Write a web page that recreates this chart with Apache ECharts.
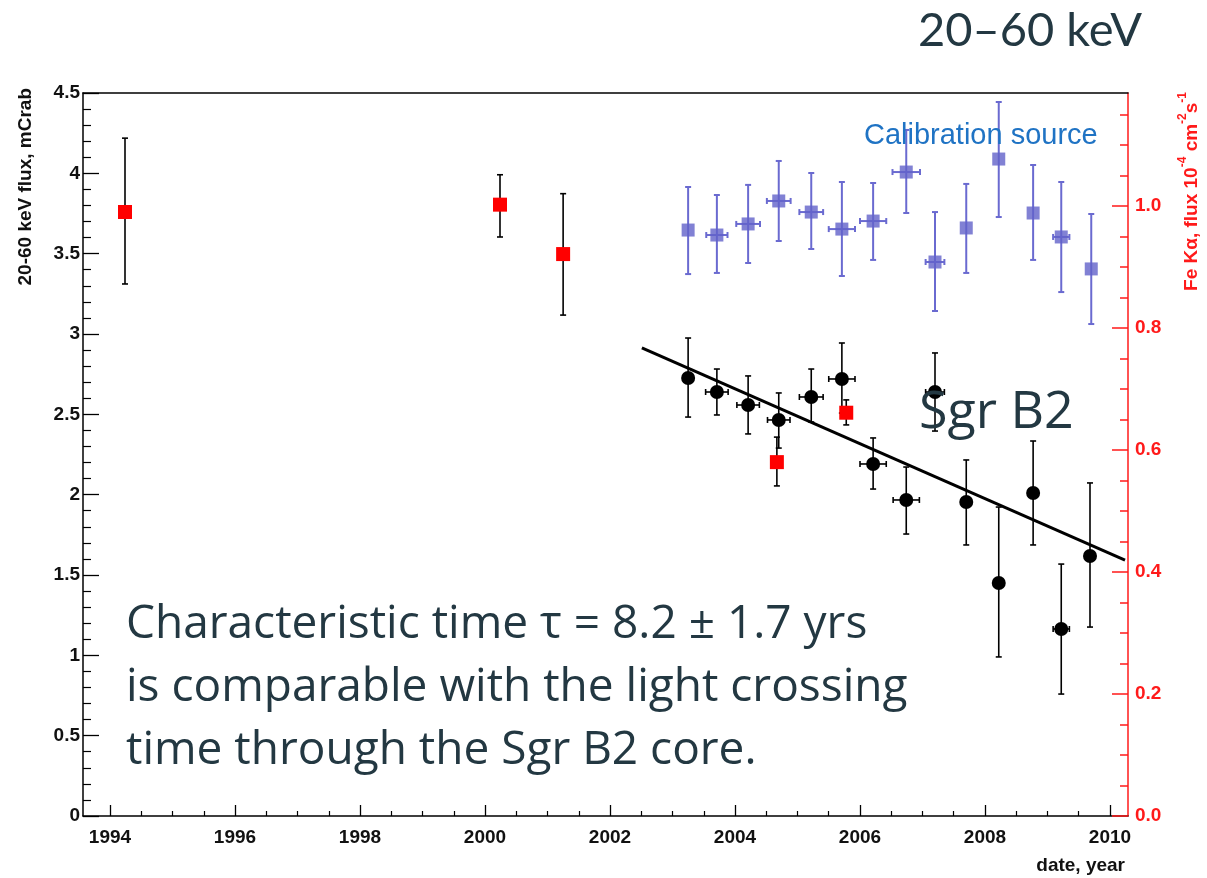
<!DOCTYPE html>
<html>
<head>
<meta charset="utf-8">
<script src="https://cdn.jsdelivr.net/npm/echarts@6/dist/echarts.min.js"></script>
<style>
html,body{margin:0;padding:0;background:#fff;}
#chart{width:1207px;height:878px;}
</style>
</head>
<body>
<div id="chart"></div>
<script>
// ---- data ----
// Calibration source (left axis, mCrab)
const blueYears = [2003.25, 2003.71, 2004.21, 2004.70, 2005.22, 2005.71, 2006.21, 2006.74, 2007.20, 2007.70, 2008.22, 2008.77, 2009.22, 2009.70];
const blueFlux  = [3.647, 3.616, 3.685, 3.828, 3.759, 3.653, 3.703, 4.008, 3.448, 3.660, 4.089, 3.753, 3.604, 3.405];
const blueLo    = [3.373, 3.380, 3.442, 3.579, 3.529, 3.361, 3.461, 3.753, 3.143, 3.380, 3.728, 3.461, 3.261, 3.062];
const blueHi    = [3.915, 3.865, 3.928, 4.077, 4.002, 3.946, 3.940, 4.270, 3.759, 3.934, 4.444, 4.052, 3.946, 3.747];
const blueXErr  = [0, 0.17, 0.19, 0.19, 0.19, 0.21, 0.21, 0.22, 0.15, 0, 0, 0, 0.13, 0];

// Sgr B2 20-60 keV flux (left axis, mCrab)
const sgrYears = [2003.25, 2003.71, 2004.21, 2004.70, 2005.22, 2005.71, 2006.21, 2006.74, 2007.20, 2007.70, 2008.22, 2008.77, 2009.22, 2009.68];
const sgrFlux  = [2.726, 2.639, 2.558, 2.465, 2.608, 2.720, 2.191, 1.967, 2.639, 1.954, 1.450, 2.010, 1.164, 1.618];
const sgrLo    = [2.483, 2.496, 2.378, 2.290, 2.452, 2.508, 2.035, 1.755, 2.396, 1.687, 0.990, 1.687, 0.759, 1.176];
const sgrHi    = [2.975, 2.782, 2.739, 2.633, 2.782, 2.944, 2.353, 2.172, 2.882, 2.216, 1.923, 2.334, 1.568, 2.073];
const sgrXErr  = [0, 0.18, 0.18, 0.18, 0.19, 0.21, 0.21, 0.21, 0.15, 0, 0, 0, 0.13, 0];

// Fe K-alpha flux (right axis, 1e-4 cm^-2 s^-1)
const feYears = [1994.24, 2000.24, 2001.25, 2004.67, 2005.78];
const feFlux  = [0.990, 1.002, 0.921, 0.580, 0.661];
const feLo    = [0.872, 0.949, 0.821, 0.541, 0.641];
const feHi    = [1.111, 1.051, 1.020, 0.621, 0.682];

// exponential-decay trend (left axis)
const trendYears = [2002.51, 2010.24];
const trendFlux  = [2.913, 1.593];

// tick labels
const xMajorTicks = [1994, 1996, 1998, 2000, 2002, 2004, 2006, 2008, 2010];
const xMinorTicks = [1993.5, 1994.5, 1995, 1995.5, 1996.5, 1997, 1997.5, 1998.5, 1999, 1999.5, 2000.5, 2001, 2001.5, 2002.5, 2003, 2003.5, 2004.5, 2005, 2005.5, 2006.5, 2007, 2007.5, 2008.5, 2009, 2009.5];
const rightMajorTicks = [0, 0.2, 0.4, 0.6, 0.8, 1.0];
const rightMinorTicks = [0.05, 0.1, 0.15, 0.25, 0.3, 0.35, 0.45, 0.5, 0.55, 0.65, 0.7, 0.75, 0.85, 0.9, 0.95, 1.05, 1.1, 1.15];

// ---- chart ----
const LABEL_FONT = '"Liberation Sans", Arial, sans-serif';
const TITLE_FONT = 'Lato, "Open Sans", sans-serif';
const SLIDE_FONT = '"Open Sans", Lato, sans-serif';
const TEXT_DARK = '#233842';

function errorBars(color, lw) {
  return function (params, api) {
    const x = api.value(0), lo = api.value(2), hi = api.value(3), xe = api.value(4), y = api.value(1);
    const c = api.coord([x, y]);
    const t = api.coord([x, hi]);
    const b = api.coord([x, lo]);
    const cap = 3;
    const style = { stroke: color, lineWidth: lw };
    const ch = [
      { type: 'line', shape: { x1: c[0], y1: t[1], x2: c[0], y2: b[1] }, style },
      { type: 'line', shape: { x1: c[0] - cap, y1: t[1], x2: c[0] + cap, y2: t[1] }, style },
      { type: 'line', shape: { x1: c[0] - cap, y1: b[1], x2: c[0] + cap, y2: b[1] }, style }
    ];
    if (xe > 0) {
      const l = api.coord([x - xe, y]);
      const r = api.coord([x + xe, y]);
      ch.push({ type: 'line', shape: { x1: l[0], y1: c[1], x2: r[0], y2: c[1] }, style });
      ch.push({ type: 'line', shape: { x1: l[0], y1: c[1] - cap, x2: l[0], y2: c[1] + cap }, style });
      ch.push({ type: 'line', shape: { x1: r[0], y1: c[1] - cap, x2: r[0], y2: c[1] + cap }, style });
    }
    return { type: 'group', children: ch };
  };
}

const blueErr = blueYears.map((x, i) => [x, blueFlux[i], blueLo[i], blueHi[i], blueXErr[i]]);
const sgrErr = sgrYears.map((x, i) => [x, sgrFlux[i], sgrLo[i], sgrHi[i], sgrXErr[i]]);
const feErr = feYears.map((x, i) => [x, feFlux[i], feLo[i], feHi[i], 0]);

const X_MIN = 1993.568, X_MAX = 2010.288;
const R_MAX = 1.185;

const chart = echarts.init(document.getElementById('chart'), null, { renderer: 'canvas' });

const option = {
  backgroundColor: '#ffffff',
  animation: false,
  grid: { left: 83, right: 79, top: 93, bottom: 62, containLabel: false },
  xAxis: [
    {
      type: 'value', position: 'bottom', min: X_MIN, max: X_MAX,
      axisLine: { show: true, onZero: false, lineStyle: { color: '#000', width: 1.5 } },
      axisTick: { show: true, inside: true, length: 11, customValues: xMajorTicks, lineStyle: { color: '#000', width: 1.3 } },
      axisLabel: { show: true, customValues: xMajorTicks, margin: 12, color: '#111', fontSize: 19, fontWeight: 'bold', fontFamily: LABEL_FONT, formatter: v => String(v) },
      splitLine: { show: false }
    },
    {
      type: 'value', position: 'bottom', min: X_MIN, max: X_MAX,
      axisLine: { show: false, onZero: false },
      axisTick: { show: true, inside: true, length: 5, customValues: xMinorTicks, lineStyle: { color: '#000', width: 1.2 } },
      axisLabel: { show: false },
      splitLine: { show: false }
    },
    {
      type: 'value', position: 'top', min: X_MIN, max: X_MAX,
      axisLine: { show: true, onZero: false, lineStyle: { color: '#000', width: 1.5 } },
      axisTick: { show: false },
      axisLabel: { show: false },
      splitLine: { show: false }
    }
  ],
  yAxis: [
    {
      type: 'value', position: 'left', min: 0, max: 4.5, interval: 0.5,
      axisLine: { show: true, onZero: false, lineStyle: { color: '#000', width: 1.5 } },
      axisTick: { show: true, inside: true, length: 16, lineStyle: { color: '#000', width: 1.3 } },
      minorTick: { show: true, splitNumber: 5, length: 8, lineStyle: { color: '#000', width: 1.2 } },
      axisLabel: { show: true, margin: 3, color: '#111', fontSize: 19, fontWeight: 'bold', fontFamily: LABEL_FONT },
      splitLine: { show: false }, minorSplitLine: { show: false }
    },
    {
      type: 'value', position: 'right', min: 0, max: R_MAX,
      axisLine: { show: true, onZero: false, lineStyle: { color: '#ff1a1a', width: 1.5 } },
      axisTick: { show: true, inside: true, length: 16, customValues: rightMajorTicks, lineStyle: { color: '#ff1a1a', width: 1.5 } },
      axisLabel: { show: true, customValues: rightMajorTicks, margin: 7, color: '#ff1a1a', fontSize: 19, fontWeight: 'bold', fontFamily: LABEL_FONT, formatter: v => v.toFixed(1) },
      splitLine: { show: false }
    },
    {
      type: 'value', position: 'right', min: 0, max: R_MAX,
      axisLine: { show: false, onZero: false },
      axisTick: { show: true, inside: true, length: 8, customValues: rightMinorTicks, lineStyle: { color: '#ff1a1a', width: 1.5 } },
      axisLabel: { show: false },
      splitLine: { show: false }
    }
  ],
  series: [
    {
      name: 'calib-err', type: 'custom', xAxisIndex: 0, yAxisIndex: 0,
      renderItem: errorBars('#6a6ad0', 2), data: blueErr, encode: { x: 0, y: 1 }, z: 2
    },
    {
      name: 'Calibration source', type: 'scatter', xAxisIndex: 0, yAxisIndex: 0,
      symbol: 'rect', symbolSize: 13, itemStyle: { color: '#6262c9' },
      data: blueYears.map((x, i) => [x, blueFlux[i]]), z: 3
    },
    {
      name: 'trend', type: 'line', xAxisIndex: 0, yAxisIndex: 0,
      showSymbol: false, symbol: 'none', lineStyle: { color: '#000', width: 3 },
      data: trendYears.map((x, i) => [x, trendFlux[i]]), z: 2, clip: false
    },
    {
      name: 'sgr-err', type: 'custom', xAxisIndex: 0, yAxisIndex: 0,
      renderItem: errorBars('#000', 1.6), data: sgrErr, encode: { x: 0, y: 1 }, z: 3
    },
    {
      name: 'Sgr B2', type: 'scatter', xAxisIndex: 0, yAxisIndex: 0,
      symbol: 'circle', symbolSize: 14, itemStyle: { color: '#000', opacity: 1 },
      data: sgrYears.map((x, i) => [x, sgrFlux[i]]), z: 4
    },
    {
      name: 'fe-err', type: 'custom', xAxisIndex: 0, yAxisIndex: 1,
      renderItem: errorBars('#000', 1.6), data: feErr, encode: { x: 0, y: 1 }, z: 4
    },
    {
      name: 'Fe K alpha', type: 'scatter', xAxisIndex: 0, yAxisIndex: 1,
      symbol: 'rect', symbolSize: 14, itemStyle: { color: '#ff0000', opacity: 1 },
      data: feYears.map((x, i) => [x, feFlux[i]]), z: 5
    }
  ],
  graphic: [
    { type: 'text', x: 918, y: 31, style: { text: '20–60 keV', fill: TEXT_DARK, font: '47px ' + TITLE_FONT, textVerticalAlign: 'middle', textAlign: 'left' }, z: 10 },
    { type: 'text', x: 864, y: 136, style: { text: 'Calibration source', fill: '#1f73c4', font: '29px ' + LABEL_FONT, textVerticalAlign: 'middle', textAlign: 'left' }, z: 10 },
    { type: 'text', x: 919, y: 413, style: { text: 'Sgr B2', fill: TEXT_DARK, font: '52px ' + SLIDE_FONT, textVerticalAlign: 'middle', textAlign: 'left' }, z: 10 },
    { type: 'text', x: 126, y: 625, style: { text: 'Characteristic time τ = 8.2 ± 1.7 yrs', fill: TEXT_DARK, font: '46px ' + SLIDE_FONT, textVerticalAlign: 'middle', textAlign: 'left' }, z: 10 },
    { type: 'text', x: 126, y: 688, style: { text: 'is comparable with the light crossing', fill: TEXT_DARK, font: '46px ' + SLIDE_FONT, textVerticalAlign: 'middle', textAlign: 'left' }, z: 10 },
    { type: 'text', x: 126, y: 751, style: { text: 'time through the Sgr B2 core.', fill: TEXT_DARK, font: '46px ' + SLIDE_FONT, textVerticalAlign: 'middle', textAlign: 'left' }, z: 10 },
    { type: 'text', x: 1125, y: 866, style: { text: 'date, year', fill: '#111', font: 'bold 19px ' + LABEL_FONT, textVerticalAlign: 'middle', textAlign: 'right' }, z: 10 },
    { type: 'text', x: 26, y: 88, rotation: Math.PI / 2, style: { text: '20-60 keV flux, mCrab', fill: '#111', font: 'bold 19px ' + LABEL_FONT, textVerticalAlign: 'middle', textAlign: 'right' }, z: 10 },
    {
      type: 'text', x: 1189, y: 92, rotation: Math.PI / 2,
      style: {
        text: '{a|Fe Kα, flux 10}{s|-4}{a| cm}{s|-2}{a|s}{s|-1}',
        textVerticalAlign: 'middle', textAlign: 'right',
        rich: {
          a: { fill: '#ff1a1a', font: 'bold 19px ' + LABEL_FONT, lineHeight: 24, verticalAlign: 'bottom' },
          s: { fill: '#ff1a1a', font: 'bold 12px ' + LABEL_FONT, lineHeight: 24, verticalAlign: 'top' }
        }
      }, z: 10
    }
  ]
};
chart.setOption(option);
</script>
</body>
</html>
